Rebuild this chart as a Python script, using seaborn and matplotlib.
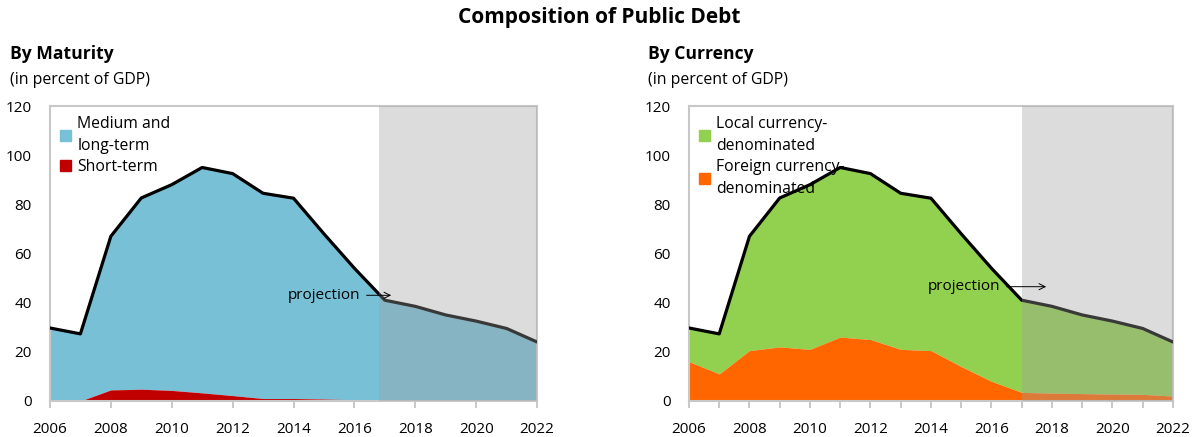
import numpy as np
import pandas as pd
import matplotlib.pyplot as plt
import seaborn as sns
from matplotlib.patches import Patch
from matplotlib.ticker import MultipleLocator

# data (percent of GDP)
years = list(range(2006, 2023))
total_debt = [29.7, 27.3, 67.0, 82.6, 88.0, 95.0, 92.5, 84.5, 82.5, 68.0, 54.0,
              41.0, 38.5, 35.0, 32.5, 29.5, 24.0]
short_term = [0.0, 0.0, 4.5, 4.8, 4.3, 3.3, 2.2, 1.0, 1.0, 0.8, 0.5,
              0.5, 0.5, 0.5, 0.4, 0.3, 0.2]
foreign_ccy = [16.0, 11.0, 20.5, 22.0, 21.0, 26.0, 25.0, 21.0, 20.5, 14.0, 8.0,
               3.5, 3.2, 3.0, 2.8, 2.7, 2.0]

df = pd.DataFrame({"year": years, "total": total_debt,
                   "short": short_term, "foreign": foreign_ccy})

sns.set_theme(style="white")
plt.rcParams["font.family"] = ["Open Sans", "DejaVu Sans"]
plt.rcParams["text.color"] = "black"
plt.rcParams["xtick.labelcolor"] = "black"
plt.rcParams["ytick.labelcolor"] = "black"

fig = plt.figure(figsize=(11.98, 4.37), dpi=100)
ax1 = fig.add_axes([0.0417, 0.0824, 0.4066, 0.675])
ax2 = fig.add_axes([0.5751, 0.0824, 0.4040, 0.675])

BLUE = "#78C0D6"
RED = "#C00000"
GREEN = "#92D050"
ORANGE = "#FF6600"


def panel(ax, lower, lower_col, upper_col, labels, shade_start, txt_xy, arrow_end, minor):
    ax.fill_between(df["year"], 0, lower, color=lower_col, lw=0, zorder=2)
    ax.fill_between(df["year"], lower, df["total"], color=upper_col, lw=0, zorder=1)
    sns.lineplot(data=df, x="year", y="total", color="black", lw=2.3, ax=ax, zorder=3)
    # projection period shading drawn on top, like the original
    ax.axvspan(shade_start, 2022, color="#9F9F9F", alpha=0.36, lw=0, zorder=4)
    ax.set_xlim(2006, 2022)
    ax.set_ylim(0, 120)
    ax.set_xticks(range(2006, 2023, 2))
    if minor:
        ax.xaxis.set_minor_locator(MultipleLocator(1))
    ax.set_yticks(range(0, 121, 20))
    ax.set_xlabel("")
    ax.set_ylabel("")
    ax.tick_params(axis="x", which="both", bottom=True, direction="out", length=5,
                   width=1.2, color="#BFBFBF", labelsize=11, pad=10)
    ax.tick_params(axis="y", left=False, labelsize=11, pad=7)
    for s in ax.spines.values():
        s.set_color("#C8C8C8")
        s.set_linewidth(1.5)
    ax.annotate("projection", xy=(arrow_end, txt_xy[1]), xytext=txt_xy,
                ha="right", va="center", fontsize=11,
                arrowprops=dict(arrowstyle="->", color="black", lw=0.7), zorder=5)
    handles = [Patch(color=upper_col, label=labels[0]),
               Patch(color=lower_col, label=labels[1])]
    leg = ax.legend(handles=handles, loc="upper left", frameon=False, fontsize=11.3,
                    handlelength=0.7, handleheight=0.7, handletextpad=0.4,
                    labelspacing=0.35, borderaxespad=0.25)
    for t in leg.get_texts():
        t.set_linespacing(1.45)


panel(ax1, df["short"], RED, BLUE, ["Medium and\nlong-term", "Short-term"],
      2016.8, (2016.2, 43), 2017.3, False)
panel(ax2, df["foreign"], ORANGE, GREEN,
      ["Local currency-\ndenominated", "Foreign currency-\ndenominated"],
      2017.0, (2016.3, 46.5), 2017.9, True)

fig.text(0.5, 0.96, "Composition of Public Debt", ha="center", va="center",
         fontsize=15, fontweight="bold")
fig.text(0.008, 0.877, "By Maturity", ha="left", va="center", fontsize=12.6, fontweight="bold")
fig.text(0.008, 0.818, "(in percent of GDP)", ha="left", va="center", fontsize=11.4)
fig.text(0.541, 0.877, "By Currency", ha="left", va="center", fontsize=12.6, fontweight="bold")
fig.text(0.541, 0.818, "(in percent of GDP)", ha="left", va="center", fontsize=11.4)

fig.savefig("out.png", dpi=100)
